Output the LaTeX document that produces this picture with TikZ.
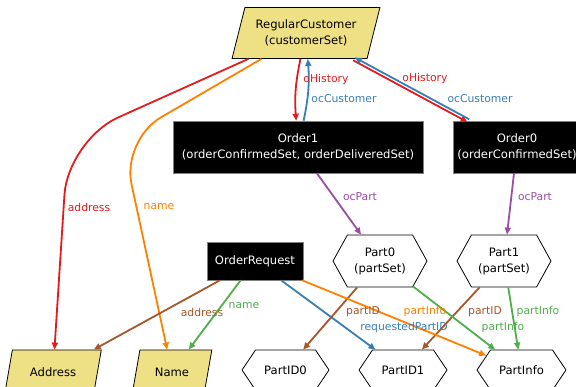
\documentclass[tikz,border=0pt]{standalone}
\usepackage{fontspec}
\setmainfont{DejaVu Sans}
\usetikzlibrary{arrows.meta}
\usetikzlibrary{shapes.geometric,shapes.symbols}

\definecolor{relred}{HTML}{E41A1C}
\definecolor{relblue}{HTML}{377EB8}
\definecolor{relgreen}{HTML}{4DAF4A}
\definecolor{relpurple}{HTML}{984EA3}
\definecolor{relorange}{HTML}{FF7F00}
\definecolor{relbrown}{HTML}{A65628}
\definecolor{clsfill}{RGB}{238,224,133}

\begin{document}
\begin{tikzpicture}[x=1pt,y=-1pt,
	every node/.style={font=\fontsize{11.6}{16}\selectfont, align=center, inner sep=2pt},
	cls/.style={trapezium, trapezium left angle=70, trapezium right angle=110, trapezium stretches=true, draw=black, fill=clsfill, line width=0.8pt},
	obj/.style={rectangle, fill=black, draw=gray, text=white, line width=0.6pt},
	part/.style={signal, signal to=east and west, signal pointer angle=#1, draw=black, fill=white, line width=0.8pt},
	lbl/.style={font=\fontsize{10.8}{12}\selectfont, inner sep=0pt},
	rel/.style={line width=1.8pt, -{Triangle[length=7pt,width=6pt]}}]
	
	\clip (0,0) rectangle (576,387);
	
	% classes
	\node[cls, minimum width=148pt, minimum height=51pt] (rc) at (306,33) {RegularCustomer\\(customerSet)};
	\node[cls, minimum width=97pt, minimum height=44pt] (addr) at (53,372) {Address};
	\node[cls, minimum width=80pt, minimum height=44pt] (name) at (172,372) {Name};
	
	% objects
	\node[obj, minimum width=250pt, minimum height=52pt] (o1) at (298,147) {Order1\\(orderConfirmedSet, orderDeliveredSet)};
	\node[obj, minimum width=128pt, minimum height=52pt] (o0) at (517,147) {Order0\\(orderConfirmedSet)};
	\node[obj, minimum width=96pt, minimum height=38pt] (oreq) at (255,261) {OrderRequest};
	
	% parts
	\node[part=122, minimum width=94pt, minimum height=52pt] (p0) at (380,261) {Part0\\(partSet)};
	\node[part=122, minimum width=94pt, minimum height=52pt] (p1) at (504,261) {Part1\\(partSet)};
	\node[part=112, minimum width=87pt, minimum height=40pt] (pid0) at (285.5,370) {PartID0};
	\node[part=112, minimum width=88pt, minimum height=40pt] (pid1) at (403,370) {PartID1};
	\node[part=112, minimum width=89pt, minimum height=40pt] (pinfo) at (521.5,370) {PartInfo};
	
	% customer links
	\draw[rel, relred, rounded corners=55pt] (rc) -- (68,140) -- (addr);
	\draw[rel, relorange, rounded corners=45pt] (rc) -- (122,140) -- (name);
	\draw[rel, relred] (rc) to[bend right=8] (o1);
	\draw[rel, relblue] (o1) to[bend right=8] (rc);
	\draw[rel, relred, transform canvas={shift={(-0.8pt,-1.4pt)}}] (rc) -- (o0);
	\draw[rel, relblue, transform canvas={shift={(0.8pt,1.4pt)}}] (o0) -- (rc);
	
	% order links
	\draw[rel, relpurple] (o1) -- (p0);
	\draw[rel, relpurple] (o0) -- (p1);
	\draw[rel, relbrown] (oreq) -- (addr);
	\draw[rel, relgreen] (oreq) -- (name);
	\draw[rel, relblue] (oreq) -- (pid1);
	\draw[rel, relbrown] (p0) -- (pid0);
	\draw[rel, relbrown] (p1) -- (pid1);
	\draw[rel, relgreen] (p0) -- (pinfo);
	\draw[rel, relgreen] (p1) -- (pinfo);
	\draw[rel, relorange] (oreq) -- (pinfo);
	
	% link labels
	\node[lbl, relred] (l1) at (326,80) {oHistory};
	\node[lbl, relblue] (l2) at (344,99) {ocCustomer};
	\node[lbl, relred] (l3) at (425,79) {oHistory};
	\node[lbl, relblue] (l4) at (480,99) {ocCustomer};
	\node[lbl, relpurple] (l5) at (360,197) {ocPart};
	\node[lbl, relpurple] (l6) at (535,197) {ocPart};
	\node[lbl, relred] (l7) at (89,207) {address};
	\node[lbl, relorange] (l8) at (159,207) {name};
	\node[lbl, relbrown] (l9) at (202,312) {address};
	\node[lbl, relgreen] (l10) at (244,306) {name};
	\node[lbl, relbrown] (l11) at (363,312) {partID};
	\node[lbl, relorange] (l12) at (425,312) {partInfo};
	\node[lbl, relblue] (l13) at (404,328) {requestedPartID};
	\node[lbl, relbrown] (l14) at (485,312) {partID};
	\node[lbl, relgreen] (l15) at (538,312) {partInfo};
	\node[lbl, relgreen] (l16) at (503,328) {partInfo};
\end{tikzpicture}
\end{document}
